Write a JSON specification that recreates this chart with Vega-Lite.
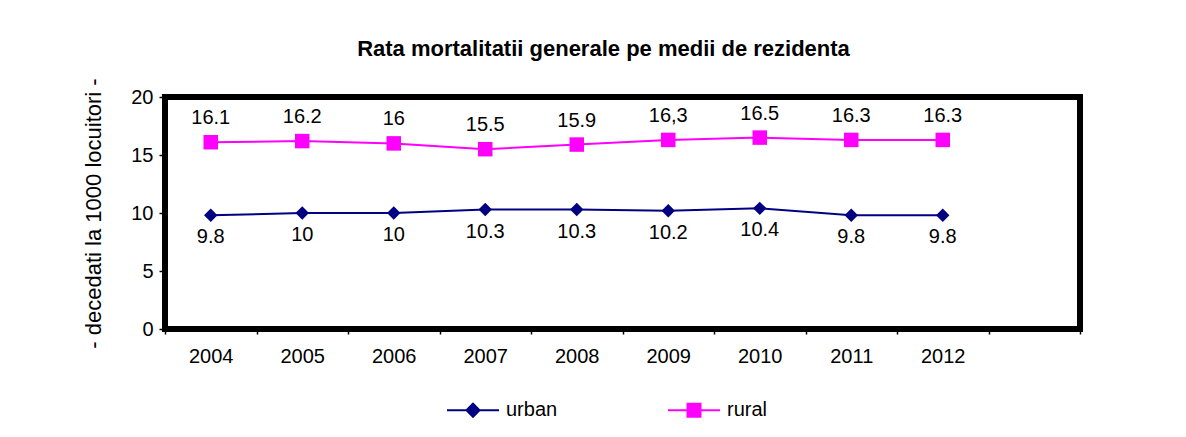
{
  "$schema": "https://vega.github.io/schema/vega-lite/v6.json",
  "width": 915,
  "height": 232,
  "autosize": {"type": "none"},
  "padding": {"left": 165, "top": 97, "right": 6, "bottom": 108},
  "background": "white",
  "title": {
    "text": "Rata mortalitatii generale pe medii de rezidenta",
    "font": "Liberation Sans",
    "fontSize": 22,
    "fontWeight": "bold",
    "color": "black",
    "anchor": "middle",
    "dx": -19,
    "offset": 17
  },
  "config": {
    "view": {"stroke": "black", "strokeWidth": 6},
    "font": "Liberation Sans",
    "axis": {
      "labelFont": "Liberation Sans",
      "titleFont": "Liberation Sans",
      "labelFontSize": 20,
      "titleFontSize": 22,
      "labelColor": "black",
      "titleColor": "black",
      "titleFontWeight": "normal",
      "tickColor": "black",
      "tickWidth": 1.5,
      "grid": false,
      "domain": false
    },
    "legend": {"labelFont": "Liberation Sans", "labelFontSize": 20, "labelColor": "black"}
  },
  "data": {
    "values": [
      {"year": "2004", "series": "urban", "value": 9.8, "label": "9.8"},
      {"year": "2005", "series": "urban", "value": 10.0, "label": "10"},
      {"year": "2006", "series": "urban", "value": 10.0, "label": "10"},
      {"year": "2007", "series": "urban", "value": 10.3, "label": "10.3"},
      {"year": "2008", "series": "urban", "value": 10.3, "label": "10.3"},
      {"year": "2009", "series": "urban", "value": 10.2, "label": "10.2"},
      {"year": "2010", "series": "urban", "value": 10.4, "label": "10.4"},
      {"year": "2011", "series": "urban", "value": 9.8, "label": "9.8"},
      {"year": "2012", "series": "urban", "value": 9.8, "label": "9.8"},
      {"year": "2004", "series": "rural", "value": 16.1, "label": "16.1"},
      {"year": "2005", "series": "rural", "value": 16.2, "label": "16.2"},
      {"year": "2006", "series": "rural", "value": 16.0, "label": "16"},
      {"year": "2007", "series": "rural", "value": 15.5, "label": "15.5"},
      {"year": "2008", "series": "rural", "value": 15.9, "label": "15.9"},
      {"year": "2009", "series": "rural", "value": 16.3, "label": "16,3"},
      {"year": "2010", "series": "rural", "value": 16.5, "label": "16.5"},
      {"year": "2011", "series": "rural", "value": 16.3, "label": "16.3"},
      {"year": "2012", "series": "rural", "value": 16.3, "label": "16.3"}
    ]
  },
  "encoding": {
    "x": {
      "field": "year",
      "type": "ordinal",
      "title": null,
      "scale": {
        "domain": ["2004", "2005", "2006", "2007", "2008", "2009", "2010", "2011", "2012", "2013"],
        "paddingInner": 0,
        "paddingOuter": 0
      },
      "axis": {
        "tickBand": "extent",
        "tickSize": 5,
        "labelPadding": 12,
        "labelAngle": 0,
        "labelExpr": "datum.value == '2013' ? '' : datum.label"
      }
    },
    "y": {
      "field": "value",
      "type": "quantitative",
      "title": "- decedati la 1000 locuitori -",
      "scale": {"domain": [0, 20], "nice": false},
      "axis": {"values": [0, 5, 10, 15, 20], "tickSize": 6, "labelPadding": 6, "titlePadding": 25}
    }
  },
  "layer": [
    {
      "transform": [{"filter": "datum.series === 'urban'"}],
      "mark": {"type": "line", "strokeWidth": 2, "color": "#000080"}
    },
    {
      "transform": [{"filter": "datum.series === 'rural'"}],
      "mark": {"type": "line", "strokeWidth": 2, "color": "#FF00FF"}
    },
    {
      "transform": [{"filter": "datum.series === 'urban'"}],
      "mark": {"type": "point", "filled": true, "opacity": 1, "shape": "diamond", "size": 180, "color": "#000080"}
    },
    {
      "transform": [{"filter": "datum.series === 'rural'"}],
      "mark": {"type": "point", "filled": true, "opacity": 1, "shape": "square", "size": 210, "color": "#FF00FF"}
    },
    {
      "transform": [{"filter": "false"}],
      "mark": {"type": "point", "filled": false, "opacity": 1, "strokeWidth": 2},
      "encoding": {
        "color": {
          "field": "series",
          "type": "nominal",
          "scale": {"domain": ["urban", "rural"], "range": ["#000080", "#FF00FF"]},
          "legend": {
            "title": null,
            "orient": "none",
            "legendX": 281,
            "legendY": 286,
            "direction": "horizontal",
            "columnPadding": 106,
            "symbolSize": 2704,
            "symbolStrokeWidth": 2,
            "labelOffset": 6
          }
        },
        "shape": {
          "field": "series",
          "type": "nominal",
          "scale": {
            "domain": ["urban", "rural"],
            "range": [
              "M-1,0H1M-0.25,0L0,-0.25L0.25,0L0,0.25ZM-0.19,0L0,-0.19L0.19,0L0,0.19ZM-0.13,0L0,-0.13L0.13,0L0,0.13ZM-0.07,0L0,-0.07L0.07,0L0,0.07ZM-0.02,0L0,-0.02L0.02,0L0,0.02Z",
              "M-1,0H1M-0.25,-0.25H0.25V0.25H-0.25ZM-0.19,-0.19H0.19V0.19H-0.19ZM-0.13,-0.13H0.13V0.13H-0.13ZM-0.07,-0.07H0.07V0.07H-0.07ZM-0.02,-0.02H0.02V0.02H-0.02Z"
            ]
          },
          "legend": {
            "title": null,
            "orient": "none",
            "legendX": 281,
            "legendY": 286,
            "direction": "horizontal",
            "columnPadding": 106,
            "symbolSize": 2704,
            "symbolStrokeWidth": 2,
            "labelOffset": 6
          }
        }
      }
    },
    {
      "transform": [{"filter": "datum.series === 'rural'"}],
      "mark": {"type": "text", "dy": -24, "fontSize": 20, "font": "Liberation Sans", "color": "black"},
      "encoding": {"text": {"field": "label"}}
    },
    {
      "transform": [{"filter": "datum.series === 'urban'"}],
      "mark": {"type": "text", "dy": 22, "fontSize": 20, "font": "Liberation Sans", "color": "black"},
      "encoding": {"text": {"field": "label"}}
    }
  ]
}
